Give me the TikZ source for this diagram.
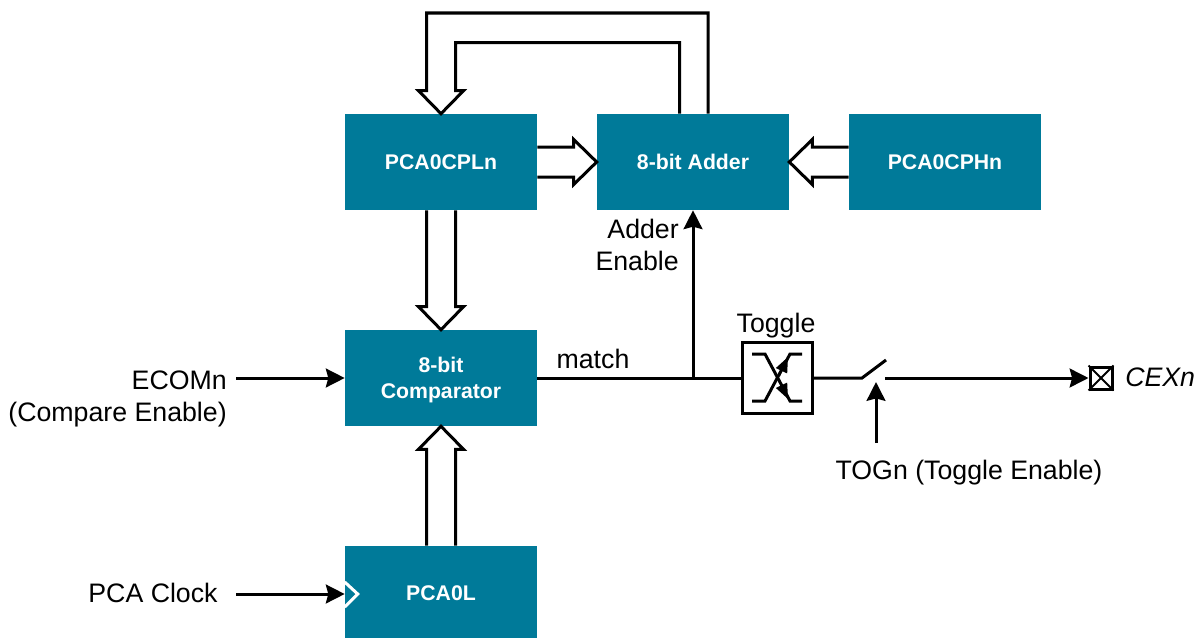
\documentclass[tikz,border=0pt]{standalone}
\usepackage{fontspec}
\setmainfont{Liberation Sans}
\usepackage{tikz}
\usetikzlibrary{calc}
\usetikzlibrary{arrows.meta}
\definecolor{pcateal}{HTML}{007A99}
\tikzset{
  block/.style={fill=pcateal,text=white,inner sep=0pt,minimum width=4.8cm,minimum height=2.4cm,align=center,font=\fontsize{15.1}{18.5}\selectfont\bfseries},
  wire/.style={line width=0.075cm},
  tipwire/.style={wire,-{Stealth[length=0.47cm,width=0.47cm,inset=0.06cm]}},
  bus/.style={line width=0.075cm,line join=miter,fill=white},
  lbl/.style={inner sep=0pt,align=right,font=\fontsize{19}{22.8}\selectfont}
}
\begin{document}
\begin{tikzpicture}[x=0.025cm,y=-0.025cm]
\useasboundingbox (0,0) rectangle (1195,638);

\node[block] (cpl) at (441,162) {PCA0CPLn};
\node[block] (adder) at (693,162) {8-bit Adder};
\node[block] (cph) at (945,162) {PCA0CPHn};
\node[block] (cmp) at (441,378) {\rule{0pt}{13.6pt}8-bit\\Comparator};
\node[block,minimum height=2.3cm] (cnt) at (441,592) {\rule{0pt}{12.2pt}PCA0L};

\node[draw,line width=0.075cm,minimum size=1.75cm,inner sep=0pt] (tgl) at (777.5,378) {};
\node[draw,line width=0.075cm,minimum size=0.55cm,inner sep=0pt] (cex) at (1101,378) {};

\node[lbl,anchor=east] (ecomtxt) at (227,399) {ECOMn\\(Compare Enable)};
\node[lbl] (clktxt) at (153,593) {PCA Clock};
\node[lbl] (matchtxt) at (593,359) {match};
\node[lbl,anchor=east] (addtxt) at (679,245) {Adder\\Enable};
\node[lbl] (tgltxt) at (776,326) {Toggle};
\node[lbl] (togtxt) at (969,473) {TOGn (Toggle Enable)};
\node[lbl,anchor=west] (cextxt) at (1125,377) {\itshape CEXn};

\coordinate (ecomin) at (236,378);
\coordinate (clkin) at (236,594);
\coordinate (junc) at (693,378);
\coordinate (swa) at (862,378);
\coordinate (swb) at (886,360);
\coordinate (swc) at (885,378);
\coordinate (togin) at (876,443);
\coordinate (togend) at (876,382);

% single lines
\draw[tipwire] (ecomin) -- (cmp.west);
\draw[tipwire] (clkin) -- (clkin -| cnt.west);
\draw[wire] (cmp.east) -- (tgl.west);
\draw[tipwire] (junc) -- (adder.south);
\draw[wire] (tgl.east) -- (swa) -- (swb);
\draw[tipwire] (swc) -- (cex.west);
\draw[tipwire] (togin) -- (togend);

% clock mark
\draw[white,line width=0.075cm] ($(cnt.west)+(0,-10)$) -- ($(cnt.west)+(13,2)$) -- ($(cnt.west)+(0,15)$);

% cross in the pin
\draw[line width=0.05cm] (cex.north west) -- (cex.south east);
\draw[line width=0.05cm] (cex.north east) -- (cex.south west);

% toggle glyph
\draw[wire] (752,354) -- (765,354) -- (790,401) -- (802,401);
\draw[wire] (802,354) -- (790,354) -- (765,401) -- (752,401);
\draw[line width=0.05cm,-{Triangle[length=0.38cm,width=0.3cm]}] (779,376) -- (788,357);
\draw[line width=0.05cm,-{Triangle[length=0.38cm,width=0.3cm]}] (779,380) -- (788,399);

% wide buses
\draw[bus] ($(cpl.east)+(0,-15)$) -- ($(adder.west)+(-23,-15)$) -- ($(adder.west)+(-23,-22.5)$) -- (adder.west) -- ($(adder.west)+(-23,22.5)$) -- ($(adder.west)+(-23,15)$) -- ($(cpl.east)+(0,15)$);
\draw[bus] ($(cph.west)+(0,-15)$) -- ($(adder.east)+(23,-15)$) -- ($(adder.east)+(23,-22.5)$) -- (adder.east) -- ($(adder.east)+(23,22.5)$) -- ($(adder.east)+(23,15)$) -- ($(cph.west)+(0,15)$);
\draw[bus] ($(cpl.south)+(-14.5,0)$) -- ($(cmp.north)+(-14.5,-23)$) -- ($(cmp.north)+(-22.5,-23)$) -- (cmp.north) -- ($(cmp.north)+(22.5,-23)$) -- ($(cmp.north)+(14.5,-23)$) -- ($(cpl.south)+(14.5,0)$);
\draw[bus] ($(cnt.north)+(-14.5,0)$) -- ($(cmp.south)+(-14.5,23)$) -- ($(cmp.south)+(-22.5,23)$) -- (cmp.south) -- ($(cmp.south)+(22.5,23)$) -- ($(cmp.south)+(14.5,23)$) -- ($(cnt.north)+(14.5,0)$);
\draw[bus,fill=none] ($(adder.north)+(15,0)$) |- (426.5,13) -- ($(cpl.north)+(-14.5,-23)$) -- ($(cpl.north)+(-22.5,-23)$) -- (cpl.north) -- ($(cpl.north)+(22.5,-23)$) -- ($(cpl.north)+(14.5,-23)$) -- (455.5,42.5) -- (679.5,42.5) -- ($(adder.north)+(-13.5,0)$);
\end{tikzpicture}
\end{document}
